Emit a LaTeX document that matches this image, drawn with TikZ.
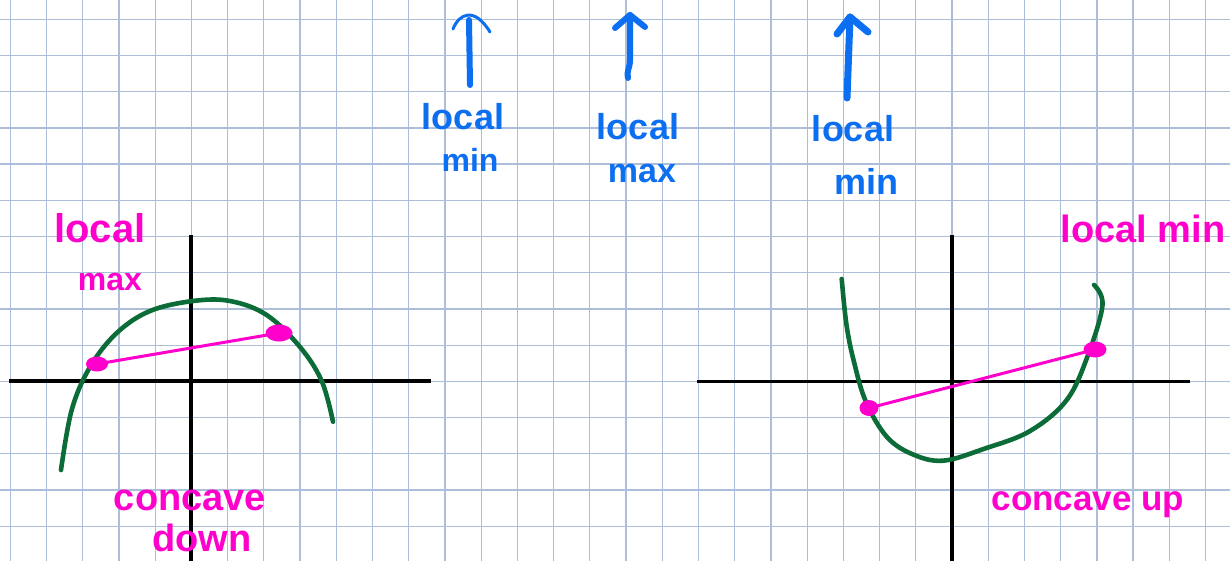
\documentclass[tikz,border=0pt]{standalone}
\usepackage{fontspec}
\setmainfont{Liberation Sans}
\usetikzlibrary{calc}
\definecolor{gridc}{RGB}{172,190,217}
\definecolor{inkblue}{RGB}{12,110,240}
\definecolor{inkpink}{RGB}{255,0,204}
\definecolor{inkgreen}{RGB}{12,108,56}
\tikzset{
  gridline/.style={draw=gridc,line width=1.3pt},
  axisline/.style={draw=black,line width=3.6pt},
  curveline/.style={draw=inkgreen,line width=4.6pt,line cap=round,line join=round},
  chordline/.style={draw=inkpink,line width=3pt,line cap=round},
  dotfill/.style={fill=inkpink},
  bluetext/.style={text=inkblue,font=\fontsize{36}{40}\selectfont\bfseries,anchor=base,inner sep=0pt},
  pinktext/.style={text=inkpink,font=\fontsize{36}{40}\selectfont\bfseries,anchor=base,inner sep=0pt},
  arrowshaft/.style={draw=inkblue,line width=6pt,line cap=round,line join=round},
  arrowhead/.style={draw=inkblue,line width=6pt,line cap=round,line join=round},
}
\begin{document}
\begin{tikzpicture}[x=1pt,y=-1pt]
\useasboundingbox (0,0) rectangle (1230,561);
\fill[white] (0,0) rectangle (1230,561);
% grid
\foreach \k in {0,...,33} {\draw[gridline] ({10.3+36.22*\k},0) -- ({10.3+36.22*\k},561);}
\foreach \k in {0,...,14} {\draw[gridline] (0,{19.2+36.22*\k}) -- (1230,{19.2+36.22*\k});}

% ---------- blue arrows and labels ----------
\coordinate (a1b) at (470,85);
\coordinate (a1t) at (469,14);
\coordinate (a1l) at (453,29);
\coordinate (a1r) at (490,32);
\draw[arrowshaft] (a1b) -- (469,20);
\draw[draw=inkblue,line width=3pt,line cap=round] (a1l) .. controls (459,14) and (474,6) .. (a1r);

\coordinate (a2b) at (628,78);
\coordinate (a2t) at (630,15);
\coordinate (a2l) at (615,28);
\coordinate (a2r) at (645,27);
\draw[arrowshaft] (a2b) .. controls (626,72) and (630,68) .. (630,60) -- (a2t);
\draw[arrowhead] (a2l) -- (a2t) -- (a2r);

\coordinate (a3b) at (847,98);
\coordinate (a3t) at (850,17);
\coordinate (a3l) at (837,34);
\coordinate (a3r) at (868,32);
\draw[arrowshaft,line width=7pt] (a3b) -- (a3t);
\draw[arrowhead,line width=7pt] (a3l) -- (a3t) -- (a3r);

\node[bluetext] (b1a) at (463,130) {local};
\node[bluetext,font=\fontsize{32}{36}\selectfont\bfseries] (b1b) at (470,172) {min};
\node[bluetext] (b2a) at (638,140) {local};
\node[bluetext,font=\fontsize{34}{38}\selectfont\bfseries] (b2b) at (642,183) {max};
\node[bluetext] (b3a) at (853,142) {local};
\node[bluetext,font=\fontsize{36}{40}\selectfont\bfseries] (b3b) at (866,195) {min};

% ---------- left graph ----------
\coordinate (lxa) at (9.3,381);
\coordinate (lxb) at (430.7,381);
\coordinate (lya) at (191,235);
\coordinate (lyb) at (191,561);
\draw[axisline] (lxa) -- (lxb);
\draw[axisline] (lya) -- (lyb);
\draw[curveline] plot[smooth,tension=0.6] coordinates {
 (61,470) (71.7,410) (90,367) (116.7,333) (150,311)
 (193,301) (230,301) (266.7,315)
 (300,347) (321.7,381) (333,421.7)};
\coordinate (lp1) at (97,364);
\coordinate (lp2) at (279,333);
\draw[chordline] (lp1) -- (lp2);
\fill[dotfill] (lp1) ellipse (11 and 7.5);
\fill[dotfill] (lp2) ellipse (13.5 and 8.5);

\node[pinktext,font=\fontsize{40}{44}\selectfont\bfseries] (m1a) at (100,243) {local};
\node[pinktext,font=\fontsize{32}{36}\selectfont\bfseries] (m1b) at (110,290) {max};
\node[pinktext,font=\fontsize{38}{42}\selectfont\bfseries] (m2a) at (190,510) {concave};
\node[pinktext,font=\fontsize{38}{42}\selectfont\bfseries] (m2b) at (202,551) {down};

% ---------- right graph ----------
\coordinate (rxa) at (697,381.5);
\coordinate (rxb) at (1190,381.5);
\coordinate (rya) at (952,235);
\coordinate (ryb) at (952,561);
\draw[axisline] (rxa) -- (rxb);
\draw[axisline] (rya) -- (ryb);
\draw[curveline] plot[smooth,tension=0.6] coordinates {
 (841.7,279) (846.5,325) (854,362) (866,402)
 (886.7,436.7) (912,454) (943,460.7)
 (985,448.5) (1030,431) (1066.7,400)
 (1088,355) (1102.5,305) (1094,285)};
\coordinate (rp1) at (869,408);
\coordinate (rp2) at (1095,349.5);
\draw[chordline] (rp1) -- (rp2);
\fill[dotfill] (rp1) ellipse (9.5 and 8);
\fill[dotfill] (rp2) ellipse (11.5 and 8);

\node[pinktext,font=\fontsize{38}{42}\selectfont\bfseries] (m3) at (1143,243) {local min};
\node[pinktext,font=\fontsize{35}{39}\selectfont\bfseries] (m4) at (1088,510) {concave up};
\end{tikzpicture}
\end{document}
